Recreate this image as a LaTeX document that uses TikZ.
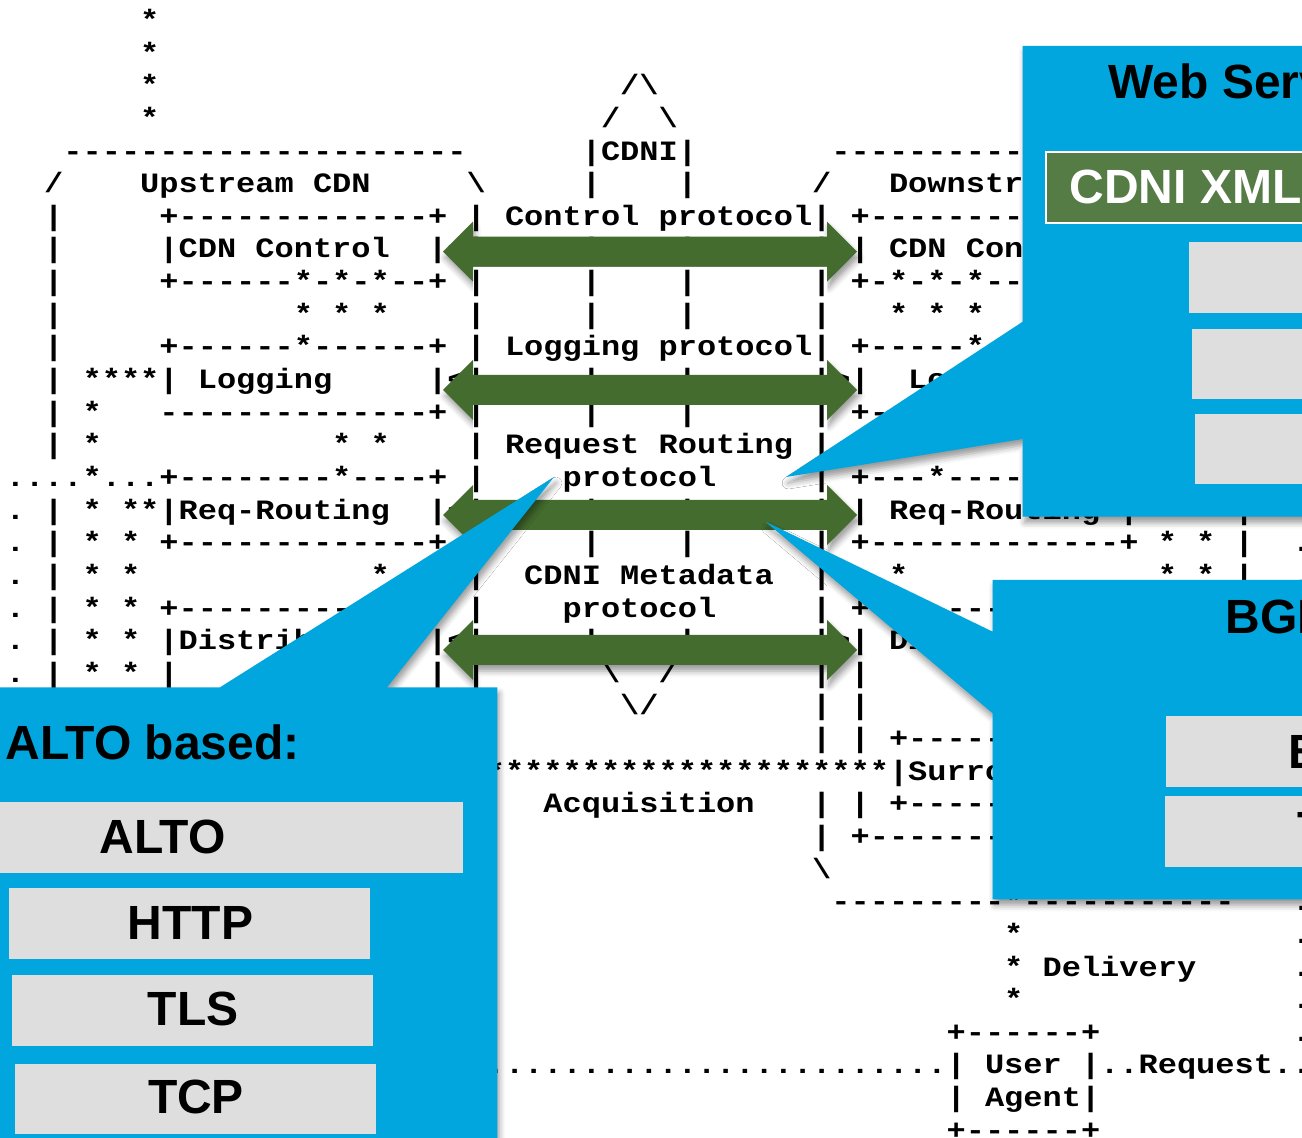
\documentclass[tikz,border=0pt]{standalone}
\usepackage{fontspec}
\setmonofont{Liberation Mono}
\newfontfamily\layerfont{Liberation Sans}
\usepackage{graphicx}
\usepackage{tikz}
\usetikzlibrary{shadows.blur}

\definecolor{arrowgreen}{RGB}{67,108,46}
\definecolor{xmlgreen}{RGB}{86,124,70}
\definecolor{calloutblue}{RGB}{0,166,221}
\definecolor{layergray}{RGB}{222,222,222}

\newcommand{\asc}[3]{\node[asc] (r#1c#2) at ({5.4+19.2*#2},{29.5+32.64*#1}) {\scalebox{1.1429}[1]{#3}};}

\begin{document}
\begin{tikzpicture}[x=0.5pt,y=-0.5pt,
	asc/.style={anchor=base west,inner sep=0pt,font=\ttfamily\bfseries\fontsize{14}{14}\selectfont},
	softshadow/.style={blur shadow={shadow xshift=1pt,shadow yshift=-3pt,shadow blur radius=3pt,shadow opacity=40}},
	callout/.style={fill=calloutblue,softshadow},
	heading/.style={anchor=base west,inner sep=0pt,font=\layerfont\bfseries\fontsize{24}{24}\selectfont},
	layertext/.style={anchor=base,inner sep=0pt,font=\layerfont\bfseries\fontsize{24}{24}\selectfont}]
	\useasboundingbox (0,0) rectangle (1302,1138);
	\clip (0,0) rectangle (1302,1138);

	\foreach \y in {251.7,390,515,650}
		\path[softshadow] (443,\y) -- (473,\y-30) -- (473,\y-15) -- (827,\y-15) -- (827,\y-30) -- (857,\y) -- (827,\y+30) -- (827,\y+15) -- (473,\y+15) -- (473,\y+30) -- cycle;
	\fill[white] (473,266.7) rectangle (827,635);

	\asc{0}{7}{*}
	\asc{1}{7}{*}
	\asc{2}{7}{*} \asc{2}{32}{/\textbackslash}
	\asc{3}{7}{*} \asc{3}{31}{/} \asc{3}{34}{\textbackslash}
	\asc{4}{3}{---------------------} \asc{4}{30}{|CDNI|} \asc{4}{43}{---------------------}
	\asc{5}{2}{/} \asc{5}{7}{Upstream CDN} \asc{5}{24}{\textbackslash} \asc{5}{30}{|} \asc{5}{35}{|} \asc{5}{42}{/} \asc{5}{46}{Downstream CDN} \asc{5}{64}{\textbackslash}
	\asc{6}{2}{|} \asc{6}{8}{+-------------+} \asc{6}{24}{| Control protocol|} \asc{6}{44}{+-------------+} \asc{6}{64}{|}
	\asc{7}{2}{|} \asc{7}{8}{|CDN Control} \asc{7}{22}{|<|} \asc{7}{30}{|} \asc{7}{35}{|} \asc{7}{42}{|>|} \asc{7}{46}{CDN Control} \asc{7}{58}{|} \asc{7}{64}{|}
	\asc{8}{2}{|} \asc{8}{8}{+------*-*-*--+} \asc{8}{24}{|} \asc{8}{30}{|} \asc{8}{35}{|} \asc{8}{42}{|} \asc{8}{44}{+-*-*-*-------+} \asc{8}{64}{|}
	\asc{9}{2}{|} \asc{9}{15}{* * *} \asc{9}{24}{|} \asc{9}{30}{|} \asc{9}{35}{|} \asc{9}{42}{|} \asc{9}{46}{* * *} \asc{9}{64}{|}
	\asc{10}{2}{|} \asc{10}{8}{+------*------+} \asc{10}{24}{| Logging protocol|} \asc{10}{44}{+-----*-------+} \asc{10}{64}{|}
	\asc{11}{2}{|} \asc{11}{4}{****| Logging} \asc{11}{22}{|<|} \asc{11}{30}{|} \asc{11}{35}{|} \asc{11}{42}{|>|} \asc{11}{47}{Logging} \asc{11}{58}{|} \asc{11}{64}{|}
	\asc{12}{2}{|} \asc{12}{4}{*} \asc{12}{8}{--------------+} \asc{12}{24}{|} \asc{12}{30}{|} \asc{12}{35}{|} \asc{12}{42}{|} \asc{12}{44}{+-------------+} \asc{12}{64}{|}
	\asc{13}{2}{|} \asc{13}{4}{*} \asc{13}{17}{* *} \asc{13}{24}{| Request Routing |} \asc{13}{64}{|}
	\asc{14}{0}{....*...+--------*----+} \asc{14}{24}{|} \asc{14}{29}{protocol} \asc{14}{42}{|} \asc{14}{44}{+---*---------+} \asc{14}{64}{|}
	\asc{15}{0}{.} \asc{15}{2}{|} \asc{15}{4}{*} \asc{15}{6}{**|Req-Routing} \asc{15}{22}{|<|} \asc{15}{30}{|} \asc{15}{35}{|} \asc{15}{42}{|>|} \asc{15}{46}{Req-Routing} \asc{15}{58}{|} \asc{15}{64}{|}
	\asc{16}{0}{.} \asc{16}{2}{|} \asc{16}{4}{*} \asc{16}{6}{*} \asc{16}{8}{+-------------+} \asc{16}{24}{|} \asc{16}{30}{|} \asc{16}{35}{|} \asc{16}{42}{|} \asc{16}{44}{+-------------+} \asc{16}{60}{* *} \asc{16}{64}{|} \asc{16}{67}{.}
	\asc{17}{0}{.} \asc{17}{2}{|} \asc{17}{4}{*} \asc{17}{6}{*} \asc{17}{19}{*} \asc{17}{24}{|} \asc{17}{27}{CDNI Metadata} \asc{17}{42}{|} \asc{17}{46}{*} \asc{17}{60}{* *} \asc{17}{64}{|} \asc{17}{67}{.}
	\asc{18}{0}{.} \asc{18}{2}{|} \asc{18}{4}{*} \asc{18}{6}{*} \asc{18}{8}{+-------------+} \asc{18}{24}{|} \asc{18}{29}{protocol} \asc{18}{42}{|} \asc{18}{44}{+-------------+} \asc{18}{67}{.}
	\asc{19}{0}{.} \asc{19}{2}{|} \asc{19}{4}{*} \asc{19}{6}{*} \asc{19}{8}{|Distribution} \asc{19}{22}{|<|} \asc{19}{30}{|} \asc{19}{35}{|} \asc{19}{42}{|>|} \asc{19}{46}{Distribution} \asc{19}{58}{|} \asc{19}{64}{|}
	\asc{20}{0}{.} \asc{20}{2}{|} \asc{20}{4}{*} \asc{20}{6}{*} \asc{20}{8}{|} \asc{20}{22}{|} \asc{20}{24}{|} \asc{20}{31}{\textbackslash} \asc{20}{34}{/} \asc{20}{42}{|} \asc{20}{44}{|}
	\asc{21}{32}{\textbackslash/} \asc{21}{42}{|} \asc{21}{44}{|}
	\asc{22}{42}{|} \asc{22}{44}{|} \asc{22}{46}{+------------+}
	\asc{23}{25}{*********************|Surrogate}
	\asc{24}{28}{Acquisition} \asc{24}{42}{|} \asc{24}{44}{|} \asc{24}{46}{+------------+}
	\asc{25}{42}{|} \asc{25}{44}{+--------------+}
	\asc{26}{42}{\textbackslash}
	\asc{27}{43}{---------*-----------} \asc{27}{67}{.}
	\asc{28}{52}{*} \asc{28}{67}{.}
	\asc{29}{52}{* Delivery} \asc{29}{67}{.}
	\asc{30}{52}{*} \asc{30}{67}{.}
	\asc{31}{49}{+------+} \asc{31}{67}{.}
	\asc{32}{25}{........................| User |..Request..}
	\asc{33}{49}{| Agent|}
	\asc{34}{49}{+------+}

	\foreach \y in {251.7,390,515,650}
		\fill[arrowgreen] (443,\y) -- (473,\y-30) -- (473,\y-15) -- (827,\y-15) -- (827,\y-30) -- (857,\y) -- (827,\y+30) -- (827,\y+15) -- (473,\y+15) -- (473,\y+30) -- cycle;

	\path[callout] (1022.7,46) -- (1330,46) -- (1330,516.7) -- (1022.7,516.7) -- (1022.7,439) -- (786,477) -- (1022.7,321.7) -- cycle;
	\node[heading] (webhead) at (1108,98.3) {Web Services based:};
	\filldraw[fill=xmlgreen,draw=white,line width=1pt] (1046,152.3) rectangle (1330,222.7);
	\node[heading,text=white] (cdnixml) at (1069,203.3) {CDNI XML};
	\fill[layergray] (1189,241.7) rectangle (1330,312.7);
	\fill[layergray] (1192.3,329) rectangle (1330,399.3);
	\fill[layergray] (1195,414) rectangle (1330,484.3);

	\path[callout] (992.7,580) -- (1330,580) -- (1330,899.3) -- (992.7,899.3) -- (992.7,713.3) -- (765.5,521.7) -- (992.7,631.7) -- cycle;
	\node[heading] (bgphead) at (1225,634) {BGP};
	\fill[layergray] (1166,716) rectangle (1330,786.7);
	\node[heading] (bgp) at (1288,768.3) {BGP};
	\fill[layergray] (1165,796) rectangle (1330,866.7);
	\node[heading] (bgptcp) at (1297,846) {TCP};

	\path[callout] (0,687.3) -- (220,687.3) -- (554,477) -- (387,687.3) -- (497.3,687.3) -- (497.3,1150) -- (0,1150) -- cycle;
	\node[heading] (altohead) at (5,760) {ALTO based:};
	\fill[layergray] (0,802.3) rectangle (462.7,872.7);
	\node[layertext] (alto) at (162.5,853.3) {ALTO};
	\fill[layergray] (9,888.3) rectangle (370,958.7);
	\node[layertext] (http) at (190.5,939.3) {HTTP};
	\fill[layergray] (12,975) rectangle (372.7,1045.7);
	\node[layertext] (tls) at (193,1025) {TLS};
	\fill[layergray] (15,1064) rectangle (376,1134);
	\node[layertext] (tcp) at (196,1113.3) {TCP};
\end{tikzpicture}
\end{document}
